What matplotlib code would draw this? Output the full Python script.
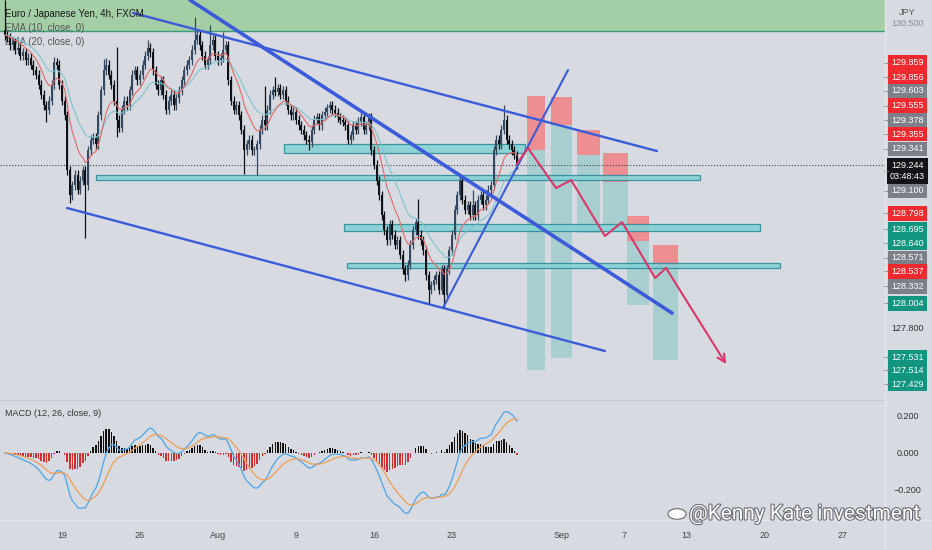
import matplotlib
matplotlib.use('Agg')
import matplotlib.pyplot as plt
import numpy as np
import pandas as pd
from matplotlib.patches import Rectangle, Circle
from matplotlib.lines import Line2D
import matplotlib.patheffects as pe
import matplotlib.transforms as mtrans

plt.rcParams['font.family'] = ['Liberation Sans', 'DejaVu Sans']

# ---------------- data ----------------
close = [
    130.40, 130.38, 130.31, 130.34, 130.27, 130.29, 130.22, 130.25, 130.18, 130.20,
    130.14, 130.09, 130.05, 129.96, 129.87, 129.78, 129.74, 129.82, 129.96, 130.16,
    130.14, 129.96, 129.82, 129.69, 129.20, 128.98, 129.07, 129.16, 129.03, 129.11,
    129.20, 129.07, 129.38, 129.47, 129.49, 129.43, 129.69, 129.91, 130.09, 130.14,
    130.05, 129.96, 129.82, 129.65, 129.58, 129.74, 129.82, 129.78, 129.91, 130.05,
    130.09, 130.00, 130.05, 130.14, 130.22, 130.29, 130.25, 130.09, 129.96, 129.91,
    130.00, 129.87, 129.74, 129.82, 129.87, 129.78, 129.84, 129.91, 130.00, 130.09,
    130.14, 130.18, 130.27, 130.36, 130.40, 130.31, 130.22, 130.14, 130.18, 130.31,
    130.36, 130.22, 130.18, 130.20, 130.27, 130.31, 130.00, 129.82, 129.74, 129.78,
    129.69, 129.56, 129.38, 129.43, 129.47, 129.38, 129.38, 129.43, 129.56, 129.65,
    129.60, 129.74, 129.87, 129.91, 129.90, 129.93, 129.87, 129.91, 129.82, 129.74,
    129.69, 129.72, 129.65, 129.60, 129.56, 129.51, 129.47, 129.45, 129.56, 129.65,
    129.67, 129.60, 129.69, 129.72, 129.75, 129.78, 129.74, 129.71, 129.67, 129.65,
    129.63, 129.60, 129.47, 129.51, 129.60, 129.56, 129.63, 129.67, 129.56, 129.60,
    129.67, 129.38, 129.25, 129.11, 128.98, 128.80, 128.67, 128.58, 128.72, 128.63,
    128.54, 128.58, 128.45, 128.32, 128.27, 128.36, 128.54, 128.67, 128.74, 128.63,
    128.58, 128.49, 128.27, 128.14, 128.18, 128.23, 128.27, 128.14, 128.32, 128.09,
    128.32, 128.49, 128.63, 128.85, 128.98, 129.11, 128.94, 128.85, 128.89, 128.80,
    128.89, 128.80, 128.94, 128.98, 128.89, 128.94, 129.03, 129.07, 129.38, 129.47,
    129.43, 129.56, 129.65, 129.47, 129.43, 129.38, 129.34, 129.244,
]
first_open = 130.45
wick_up = [
    0.26, 0.04, 0.04, 0.04, 0.04, 0.04, 0.04, 0.04, 0.04, 0.04,
    0.04, 0.04, 0.04, 0.04, 0.04, 0.04, 0.04, 0.04, 0.04, 0.05,
    0.04, 0.04, 0.04, 0.04, 0.04, 0.04, 0.04, 0.04, 0.04, 0.04,
    0.04, 0.04, 0.04, 0.04, 0.04, 0.04, 0.04, 0.04, 0.10, 0.06,
    0.04, 0.04, 0.04, 0.48, 0.04, 0.04, 0.04, 0.04, 0.04, 0.04,
    0.04, 0.04, 0.04, 0.04, 0.04, 0.07, 0.04, 0.04, 0.04, 0.04,
    0.04, 0.04, 0.04, 0.04, 0.04, 0.04, 0.04, 0.04, 0.04, 0.04,
    0.04, 0.04, 0.04, 0.20, 0.04, 0.04, 0.04, 0.04, 0.04, 0.18,
    0.04, 0.04, 0.04, 0.04, 0.16, 0.04, 0.04, 0.04, 0.04, 0.04,
    0.04, 0.04, 0.04, 0.04, 0.04, 0.04, 0.04, 0.04, 0.04, 0.04,
    0.30, 0.04, 0.04, 0.04, 0.12, 0.04, 0.04, 0.04, 0.04, 0.04,
    0.04, 0.04, 0.04, 0.04, 0.04, 0.04, 0.04, 0.04, 0.04, 0.04,
    0.04, 0.04, 0.04, 0.04, 0.04, 0.04, 0.04, 0.04, 0.04, 0.04,
    0.04, 0.04, 0.04, 0.04, 0.04, 0.04, 0.04, 0.04, 0.04, 0.04,
    0.04, 0.04, 0.04, 0.04, 0.04, 0.04, 0.04, 0.04, 0.04, 0.04,
    0.04, 0.04, 0.04, 0.04, 0.04, 0.04, 0.04, 0.04, 0.04, 0.21,
    0.04, 0.04, 0.04, 0.04, 0.04, 0.04, 0.04, 0.04, 0.04, 0.04,
    0.04, 0.04, 0.04, 0.04, 0.04, 0.05, 0.04, 0.04, 0.04, 0.04,
    0.14, 0.04, 0.04, 0.04, 0.04, 0.04, 0.04, 0.04, 0.04, 0.04,
    0.04, 0.04, 0.13, 0.04, 0.04, 0.04, 0.04, 0.03,
]
wick_dn = [
    0.04, 0.04, 0.04, 0.04, 0.04, 0.04, 0.04, 0.04, 0.04, 0.04,
    0.04, 0.04, 0.04, 0.04, 0.04, 0.04, 0.11, 0.04, 0.04, 0.04,
    0.04, 0.04, 0.04, 0.04, 0.04, 0.07, 0.04, 0.04, 0.04, 0.04,
    0.04, 0.47, 0.04, 0.04, 0.04, 0.04, 0.04, 0.04, 0.04, 0.04,
    0.04, 0.04, 0.04, 0.15, 0.04, 0.04, 0.04, 0.04, 0.04, 0.04,
    0.04, 0.04, 0.04, 0.04, 0.04, 0.04, 0.04, 0.04, 0.04, 0.04,
    0.04, 0.04, 0.04, 0.04, 0.04, 0.04, 0.04, 0.04, 0.04, 0.04,
    0.04, 0.04, 0.04, 0.04, 0.04, 0.04, 0.04, 0.04, 0.04, 0.04,
    0.04, 0.04, 0.04, 0.04, 0.04, 0.04, 0.04, 0.04, 0.04, 0.04,
    0.04, 0.04, 0.21, 0.04, 0.04, 0.04, 0.04, 0.22, 0.04, 0.04,
    0.04, 0.04, 0.04, 0.04, 0.04, 0.04, 0.04, 0.04, 0.04, 0.04,
    0.04, 0.04, 0.04, 0.04, 0.04, 0.04, 0.04, 0.07, 0.04, 0.04,
    0.04, 0.04, 0.04, 0.04, 0.04, 0.04, 0.04, 0.04, 0.04, 0.04,
    0.04, 0.04, 0.04, 0.04, 0.04, 0.04, 0.04, 0.04, 0.04, 0.04,
    0.04, 0.04, 0.04, 0.04, 0.04, 0.04, 0.04, 0.04, 0.04, 0.04,
    0.04, 0.04, 0.04, 0.04, 0.05, 0.04, 0.04, 0.04, 0.04, 0.04,
    0.04, 0.04, 0.04, 0.12, 0.04, 0.04, 0.04, 0.04, 0.04, 0.11,
    0.04, 0.04, 0.04, 0.04, 0.04, 0.04, 0.04, 0.04, 0.04, 0.04,
    0.04, 0.04, 0.04, 0.04, 0.04, 0.04, 0.04, 0.04, 0.04, 0.04,
    0.04, 0.04, 0.04, 0.04, 0.04, 0.04, 0.04, 0.03,
]

date_ticks = [22, 52, 82, 112, 142, 172, 214, 238, 262, 292, 322]
date_labels = ['19', '26', 'Aug', '9', '16', '23', 'Sep', '7', '13', '20', '27']

supply_low = 130.44          # green zone lower edge

zone_x0 = [107.4, 35.1, 130.5, 131.6]
zone_x1 = [200.1, 267.4, 290.5, 298.2]
zone_lo = [129.354, 129.114, 128.661, 128.333]
zone_hi = [129.434, 129.159, 128.724, 128.377]

tl_x0 = [71.2, 49.3, 23.9, 168.5]
tl_y0 = [130.713, 130.598, 128.866, 127.978]
tl_x1 = [256.6, 250.8, 230.8, 216.6]
tl_y1 = [127.933, 129.372, 127.596, 130.091]
tl_w = [2.6, 1.7, 1.7, 1.5]

pos_x0 = [200.8, 210.1, 220.1, 230.1, 239.3, 249.3]
pos_x1 = [207.8, 218.2, 228.9, 239.7, 247.8, 258.9]
pos_stop = [129.859, 129.856, 129.555, 129.355, 128.798, 128.537]
pos_entry = [129.378, 129.603, 129.341, 129.100, 128.571, 128.332]
pos_target = [127.429, 127.531, 128.640, 128.695, 128.004, 127.514]

path_x = [197.0, 201.2, 212.0, 217.8, 230.8, 237.4, 250.1, 254.3, 277.4]
path_y = [129.26, 129.399, 129.043, 129.114, 128.617, 128.741, 128.244, 128.333, 127.480]

lab_text = ['129.859', '129.856', '129.603', '129.555', '129.378', '129.355', '129.341',
            '129.244\n03:48:43', '129.100', '128.798', '128.695', '128.640', '128.571',
            '128.537', '128.332', '128.004', '127.531', '127.514', '127.429']
lab_kind = ['r', 'r', 'g', 'r', 'g', 'r', 'g', 'k', 'g', 'r', 't', 't', 'g',
            'r', 'g', 't', 't', 't', 't']
lab_pos = [130.154, 130.029, 129.905, 129.772, 129.647, 129.523, 129.390,
           129.195, 129.017, 128.821, 128.679, 128.555, 128.422,
           128.306, 128.173, 128.022, 127.542, 127.427, 127.303]

macd_ticks = [0.2, 0.0, -0.2]
macd_ticklabels = ['0.200', '0.000', '\u22120.200']

# ---------------- style ----------------
BG = '#d7dae1'
W, H = 932, 550
fig = plt.figure(figsize=(W / 100, H / 100), dpi=100, facecolor=BG)
ax = fig.add_axes([0, 150 / H, 885 / W, 400 / H], facecolor=BG)
mx = fig.add_axes([0, 30 / H, 885 / W, 120 / H], facecolor=BG)
for a in (ax, mx):
    for s in a.spines.values():
        s.set_visible(False)
    a.set_xticks([])
    a.set_yticks([])

XL = (-1.846, 338.5)
ax.set_xlim(*XL)
ax.set_ylim(127.161, 130.713)
mx.set_xlim(*XL)
mx.set_ylim(-0.362, 0.2865)

c = np.array(close)
o = np.array([first_open] + close[:-1])
hi = np.maximum(o, c) + np.array(wick_up)
lo = np.minimum(o, c) - np.array(wick_dn)
idx = np.arange(len(c))
up = c >= o
col = np.where(up, '#34495f', '#0d1014')

# green supply zone
ax.axhspan(supply_low, 131.5, color='#a4cea5', zorder=0.5, lw=0)
ax.axhline(supply_low, color='#3e9a7a', lw=1.0, zorder=0.6)

# position boxes
for x0, x1, s, e, t in zip(pos_x0, pos_x1, pos_stop, pos_entry, pos_target):
    ax.add_patch(Rectangle((x0, e), x1 - x0, s - e, fc='#ec8e92', ec='none', zorder=1))
    ax.add_patch(Rectangle((x0, t), x1 - x0, e - t, fc='#a9cecf', ec='none', zorder=1))

# horizontal zones
for x0, x1, l, h in zip(zone_x0, zone_x1, zone_lo, zone_hi):
    ax.add_patch(Rectangle((x0, l), x1 - x0, h - l, fc='#86d2d6', ec='#2f8d99',
                           lw=0.9, alpha=0.9, zorder=2))

# current price dotted line
ax.axhline(close[-1], color='#444444', lw=0.8, ls=(0, (1, 1.6)), zorder=2.5)

# candles
ax.vlines(idx, lo, hi, colors=col, lw=0.9, zorder=3)
ax.bar(idx, np.maximum(np.abs(c - o), 0.008), bottom=np.minimum(o, c), width=0.78,
       color=col, lw=0, zorder=3)

# EMAs
s = pd.Series(c)
ema10 = s.ewm(span=10, adjust=False).mean()
ema20 = s.ewm(span=20, adjust=False).mean()
ax.plot(idx, ema20, color='#7fc5cf', lw=0.8, zorder=3.2)
ax.plot(idx, ema10, color='#e06a6a', lw=0.8, zorder=3.3)

# trend lines
for x0, y0, x1, y1, w in zip(tl_x0, tl_y0, tl_x1, tl_y1, tl_w):
    ax.plot([x0, x1], [y0, y1], color='#3c5bd8', lw=w, zorder=4, solid_capstyle='round')

# projected path
PINK = '#d8386a'
ax.plot(path_x[:-1], path_y[:-1], color=PINK, lw=1.5, zorder=4.5)
ax.annotate('', xy=(path_x[-1], path_y[-1]), xytext=(path_x[-2], path_y[-2]),
            arrowprops=dict(arrowstyle='->', color=PINK, lw=1.5, mutation_scale=14,
                            shrinkA=0, shrinkB=0), zorder=4.5)

# legend texts
ax.text(5 / 885, (400 - 14) / 400, 'Euro / Japanese Yen, 4h, FXCM', transform=ax.transAxes,
        fontsize=7, color='#1a1a1a', va='center', ha='left', zorder=5)
ax.text(5 / 885, (400 - 28) / 400, 'EMA (10, close, 0)', transform=ax.transAxes,
        fontsize=7, color='#555555', va='center', ha='left', zorder=2)
ax.text(5 / 885, (400 - 42) / 400, 'EMA (20, close, 0)', transform=ax.transAxes,
        fontsize=7, color='#555555', va='center', ha='left', zorder=2)

# right price axis
tr = mtrans.blended_transform_factory(ax.transAxes, ax.transData)
XC = 907.5 / 885
ax.text(XC, 130.598, 'JPY', transform=tr, fontsize=6.5, color='#555555', ha='center', va='center')
ax.text(XC, 130.500, '130.500', transform=tr, fontsize=6.5, color='#8a8d95', ha='center', va='center')
ax.text(XC, 127.800, '127.800', transform=tr, fontsize=6.5, color='#333333', ha='center', va='center')
kind_col = {'r': '#f02a2e', 'g': '#7d8089', 't': '#12957f', 'k': '#121417'}
for t, k, p in zip(lab_text, lab_kind, lab_pos):
    ax.text(XC, p, t, transform=tr, fontsize=6.5, color='white', ha='center', va='center',
            linespacing=1.35,
            bbox=dict(boxstyle='square,pad=0.33', fc=kind_col[k], ec='none'), zorder=6)
    ax.plot([884 / 885, 888 / 885], [p, p], transform=tr, color='#777777', lw=0.7,
            clip_on=False, zorder=6)

# MACD
ema12 = s.ewm(span=12, adjust=False).mean()
ema26 = s.ewm(span=26, adjust=False).mean()
macd = ema12 - ema26
sig = macd.ewm(span=9, adjust=False).mean()
hist = macd - sig
mx.bar(idx, hist, width=0.55, color=np.where(hist >= 0, '#111111', '#d32f2f'), lw=0, zorder=2)
mx.plot(idx, macd, color='#4ea4e6', lw=0.9, zorder=3)
mx.plot(idx, sig, color='#ee9f55', lw=0.9, zorder=3)
mx.text(5 / 885, (520 - 413) / 120, 'MACD (12, 26, close, 9)', transform=mx.transAxes,
        fontsize=6.5, color='#333333', va='center', ha='left')
trm = mtrans.blended_transform_factory(mx.transAxes, mx.transData)
for v, t in zip(macd_ticks, macd_ticklabels):
    mx.text(XC, v, t, transform=trm, fontsize=6.5, color='#333333', ha='center', va='center')

# date axis
trd = mtrans.blended_transform_factory(mx.transData, mx.transAxes)
for d, t in zip(date_ticks, date_labels):
    mx.text(d, (520 - 536) / 120, t, transform=trd, fontsize=6.5, color='#444444',
            ha='center', va='center', clip_on=False)

# separators
fig.add_artist(Line2D([0, 885 / W], [150 / H, 150 / H], color='#c9ccd3', lw=1, transform=fig.transFigure))
fig.add_artist(Line2D([0, 1], [30 / H, 30 / H], color='#e4e6ea', lw=1, transform=fig.transFigure))
fig.add_artist(Line2D([885 / W, 885 / W], [0, 1], color='#e4e6ea', lw=1, transform=fig.transFigure))

# watermark
fig.add_artist(Circle((677 / W, 36 / H), 0.0097, transform=fig.transFigure, fc='white',
                      ec='#666666', lw=0.8))
fig.text(689 / W, 36 / H, '@Kenny Kate investment', fontsize=15, color='white',
         ha='left', va='center', family=['Roboto', 'DejaVu Sans'],
         path_effects=[pe.withStroke(linewidth=1.6, foreground='#6a6d75')])

fig.savefig('out.png', dpi=100, facecolor=BG)
